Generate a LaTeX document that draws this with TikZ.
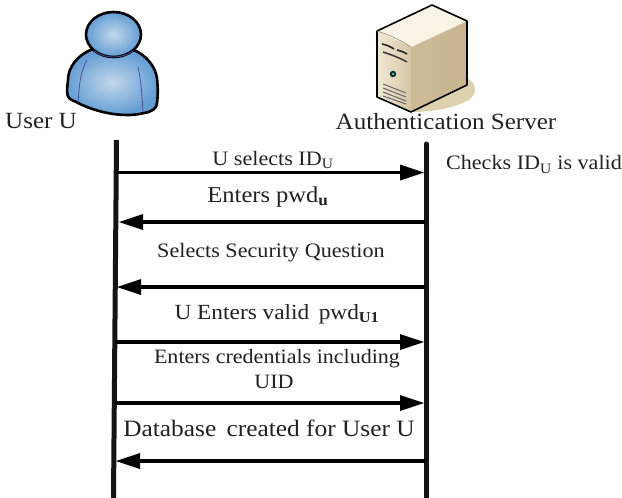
\documentclass[tikz,border=0pt]{standalone}
\usepackage{fontspec}
\setmainfont[FakeStretch=1.08]{Liberation Serif}
\usetikzlibrary{arrows.meta}
\newcommand{\sz}[1]{\fontsize{#1}{#1}\selectfont}
\newcommand{\subt}[1]{\textsubscript{#1}}
\definecolor{bluein}{HTML}{C2D7EB}
\definecolor{blueout}{HTML}{639DD3}
\definecolor{txt}{HTML}{222222}
\definecolor{bodyline}{HTML}{4A4E9A}
\definecolor{srvshadow}{HTML}{DDD2AE}
\definecolor{frontl}{HTML}{F0E8D6}
\definecolor{frontr}{HTML}{D6C6A6}
\definecolor{sidel}{HTML}{CDBB98}
\definecolor{sidem}{HTML}{E6DAC2}
\definecolor{sider}{HTML}{C8B48F}
\definecolor{srvtop}{HTML}{F8F3E4}
\tikzset{
  x=1pt,y=-1pt,
  lifeline/.style={line width=5pt,black!92},
  msg/.style={line width=3.2pt,black,-{Triangle[length=24pt,width=16pt,line width=0pt]},shorten >=0pt},
  lbl/.style={text=txt,inner sep=0pt,anchor=center,align=center},
  outline/.style={line width=2.6pt,black,line join=round}
}
\begin{document}
\begin{tikzpicture}
\useasboundingbox (0,0) rectangle (622,498);
\fill[white] (0,0) rectangle (622,498);
% user icon
\draw[outline,shading=radial,inner color=bluein,outer color=blueout]
  (91.5,49.5) .. controls (78,55) and (68,67) .. (68,80)
  .. controls (67,90) and (66,96) .. (70,99)
  .. controls (75,102) and (78,102) .. (80,104)
  .. controls (95,111) and (112,115) .. (127,115)
  .. controls (135,115) and (140,114) .. (144,113)
  .. controls (152,112) and (157,108) .. (157,103)
  .. controls (158,95) and (158,88) .. (157,78)
  .. controls (155,65) and (145,55) .. (134,50) -- cycle;
\draw[bodyline,line width=0.8pt] (87,60) .. controls (80,72) and (79,88) .. (78,103);
\draw[bodyline,line width=0.8pt] (138,67) .. controls (141,80) and (142,95) .. (143,112);
\draw[outline,shading=radial,inner color=bluein,outer color=blueout] (113.5,34.5) ellipse [x radius=27.5,y radius=22.5];
\draw[bodyline,line width=0.8pt] (94,51) .. controls (105,59) and (122,59) .. (133,51);
% server icon
\fill[srvshadow] (467,78) .. controls (478,84) and (478,96) .. (465,102) .. controls (450,109) and (430,112) .. (411,112) -- cycle;
\shade[left color=frontl,right color=frontr] (377,31) -- (411,47) -- (411,112) -- (377,97) -- cycle;
\shade[left color=sidel,middle color=sidem,right color=sider] (411,47) -- (467,21) -- (467,85) -- (411,112) -- cycle;
\fill[srvtop] (377,31) -- (432,5) -- (467,21) -- (411,47) .. controls (400,40) and (390,35) .. (377,31) -- cycle;
\draw[outline,line width=1.6pt] (377,31) -- (432,5) -- (467,21) -- (467,85) -- (411,112) -- (377,97) -- cycle;
\draw[sidel!70!black,line width=0.6pt] (377,31) .. controls (390,35) and (400,40) .. (411,47);
\draw[black!85,line width=1.6pt] (382,44) .. controls (387,45) and (391,47) .. (394,49);
\draw[black!85,line width=1.6pt] (397,50) .. controls (401,51) and (404,52) .. (407,54);
\draw[black!75,line width=1.6pt] (383,52) .. controls (392,55) and (400,58) .. (407,62);
\draw[black!60,line width=1pt] (383,84) -- (406,93);
\draw[black!60,line width=1pt] (383,88) -- (406,97);
\draw[black!60,line width=1pt] (383,92) -- (406,101);
\draw[black!60,line width=1pt] (383,96) -- (406,104);
\fill[black!70!teal] (393,74) circle (3.2);
\fill[teal!60!white] (393,74) circle (1.5);
% lifelines
\coordinate (ut) at (116.5,140);
\coordinate (ub) at (113.5,498);
\coordinate (st) at (426.5,144);
\coordinate (sb) at (426.5,498);
\draw[lifeline] (ut) -- (ub);
\draw[lifeline,line cap=round] (st) -- (sb);
\coordinate (a1) at (116,172.5); \coordinate (b1) at (424,172.5);
\coordinate (a2) at (119,222); \coordinate (b2) at (425,222);
\coordinate (a3) at (117,287); \coordinate (b3) at (425,287);
\coordinate (a4) at (115,342); \coordinate (b4) at (424,342);
\coordinate (a5) at (115,403); \coordinate (b5) at (424,403);
\coordinate (a6) at (116,461); \coordinate (b6) at (425,461);
\draw[msg] (a1) -- (b1);
\draw[msg] (b2) -- (a2);
\draw[msg] (b3) -- (a3);
\draw[msg] (a4) -- (b4);
\draw[msg] (a5) -- (b5);
\draw[msg] (b6) -- (a6);
% labels
\node[lbl] (user) at (41,121) {\sz{23.2}User U};
\node[lbl] (server) at (446,122) {\sz{23.2}Authentication Server};
\node[lbl] (m1) at (273,160) {\sz{20.5}U selects ID\subt{U}};
\node[lbl] (chk) at (534,164.5) {\sz{20.5}Checks ID\subt{U} is valid};
\node[lbl] (m2) at (268,197) {\sz{22.7}Enters pwd\subt{\bfseries u}};
\node[lbl] (m3) at (271,253) {\sz{20.5}Selects Security Question};
\node[lbl] (m4) at (277,314) {\sz{21.6}U Enters valid\, pwd\subt{\bfseries U1}};
\node[lbl] (m5) at (277,358.5) {\sz{20.4}Enters credentials including};
\node[lbl] (m5b) at (274,382) {\sz{20.4}UID};
\node[lbl] (m6) at (269,428.5) {\sz{23.5}Database\, created for User U};
\end{tikzpicture}
\end{document}
